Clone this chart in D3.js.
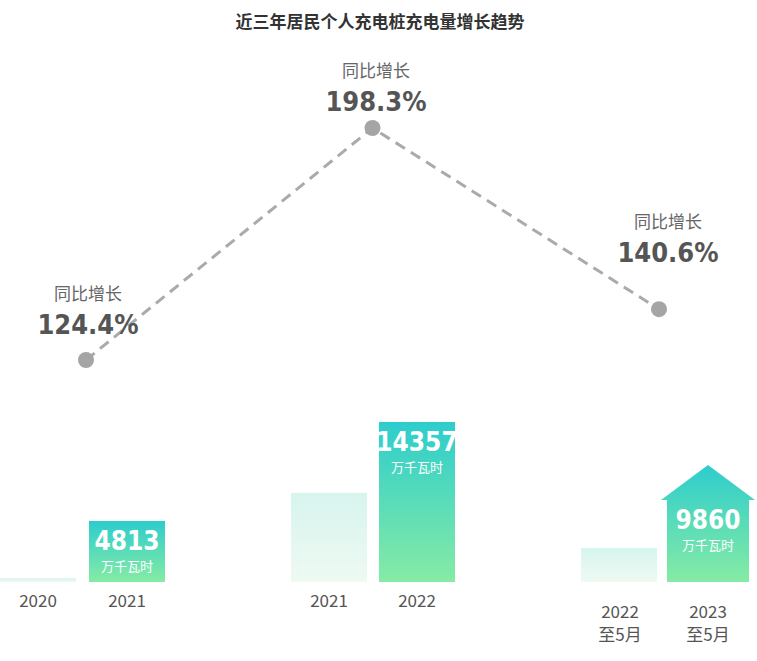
<!DOCTYPE html><html><head><meta charset="utf-8"><script src="https://cdn.jsdelivr.net/npm/d3@7"></script>
<style>body{margin:0;background:#fff}</style></head><body><svg id="c" width="757" height="661"></svg>
<script>
const title="近三年居民个人充电桩充电量增长趋势";
const growthLabels=["124.4%","198.3%","140.6%"];
const growthValues=[124.4,198.3,140.6];
const groupPrev=["2020","2021","2022\n至5月"];
const groupCurr=["2021","2022","2023\n至5月"];
const prevValues=[300,8000,4093];
const currValues=[4813,14357,9860];
const unit="万千瓦时";
const svg=d3.select("#c");
const F="'Noto Sans CJK SC','Noto Sans',sans-serif";
const NF="'DejaVu Sans Condensed','DejaVu Sans',sans-serif";
svg.append("text").attr("x",380).attr("y",28).attr("text-anchor","middle").attr("font-family",F).attr("font-weight","bold").attr("font-size",17).attr("fill","#333").text(title);
const defs=svg.append("defs");
const g1=defs.append("linearGradient").attr("id","dark").attr("x1",0).attr("x2",0).attr("y1",0).attr("y2",1);
g1.append("stop").attr("offset","0%").attr("stop-color","#2dcdcd");g1.append("stop").attr("offset","100%").attr("stop-color","#86eba4");
const g2=defs.append("linearGradient").attr("id","light").attr("x1",0).attr("x2",0).attr("y1",0).attr("y2",1);
g2.append("stop").attr("offset","0%").attr("stop-color","#d7f4ee");g2.append("stop").attr("offset","100%").attr("stop-color","#eefaf2");
// line
const xg=d3.scalePoint().domain([0,1,2]).range([86,659]);
const yg=d3.scaleLinear().domain([124.4,198.3]).range([360,128]);
const pts=growthValues.map((v,i)=>[xg(i),yg(v)]);
svg.append("path").attr("d",d3.line()(pts)).attr("fill","none").attr("stroke","#aaa").attr("stroke-width",3).attr("stroke-dasharray","11,7");
svg.selectAll("circle").data(pts).join("circle").attr("cx",d=>d[0]).attr("cy",d=>d[1]).attr("r",8).attr("fill","#a5a5a5");
const lab=[[88,300],[376,77],[668,228]];
growthLabels.forEach((t,i)=>{
 svg.append("text").attr("x",lab[i][0]).attr("y",lab[i][1]).attr("text-anchor","middle").attr("font-family",F).attr("font-size",17).attr("fill","#666").text("同比增长");
 svg.append("text").attr("x",lab[i][0]).attr("y",lab[i][1]+34).attr("text-anchor","middle").attr("font-family",NF).attr("font-stretch","condensed").attr("font-weight","bold").attr("font-size",27).attr("fill","#555").text(t);
});
// bars
const base=582;
const groups=[{px:0,cx:89,h:61},{px:291,cx:379,h:160},{px:581,cx:667,h:82}];
const bw=76;
groups.forEach((g,i)=>{
 const y=d3.scaleLinear().domain([0,currValues[i]]).range([0,g.h]);
 const ph=y(prevValues[i]);
 svg.append("rect").attr("x",g.px).attr("y",base-ph).attr("width",bw).attr("height",ph).attr("fill","url(#light)");
 const ch=y(currValues[i]);
 if(i===2){
  const top=base-ch, cx=g.cx+bw/2+3;
  svg.append("path").attr("d",`M${g.cx},${base}V${top}H${cx-47}L${cx},${top-35}L${cx+47},${top}H${g.cx+82}V${base}Z`).attr("fill","url(#dark)");
  g.tx=cx; 
 } else {
  svg.append("rect").attr("x",g.cx).attr("y",base-ch).attr("width",bw).attr("height",ch).attr("fill","url(#dark)");
  g.tx=g.cx+bw/2;
 }
 const ty=base-ch+29;
 svg.append("text").attr("x",g.tx).attr("y",ty).attr("text-anchor","middle").attr("font-family",NF).attr("font-stretch","condensed").attr("font-weight","bold").attr("font-size",26).attr("fill","#fff").text(currValues[i]);
 svg.append("text").attr("x",g.tx).attr("y",ty+21).attr("text-anchor","middle").attr("font-family",F).attr("font-size",13).attr("fill","#fff").text(unit);
 [[groupPrev[i],g.px+bw/2+(i===2?1:0)],[groupCurr[i],g.tx]].forEach(([t,x])=>{
  t.split("\n").forEach((s,k)=>svg.append("text").attr("x",x).attr("y",i===2?618+k*23:607).attr("text-anchor","middle").attr("font-family",F).attr("font-size",17).attr("fill","#555").text(s));
 });
});
</script></body></html>
